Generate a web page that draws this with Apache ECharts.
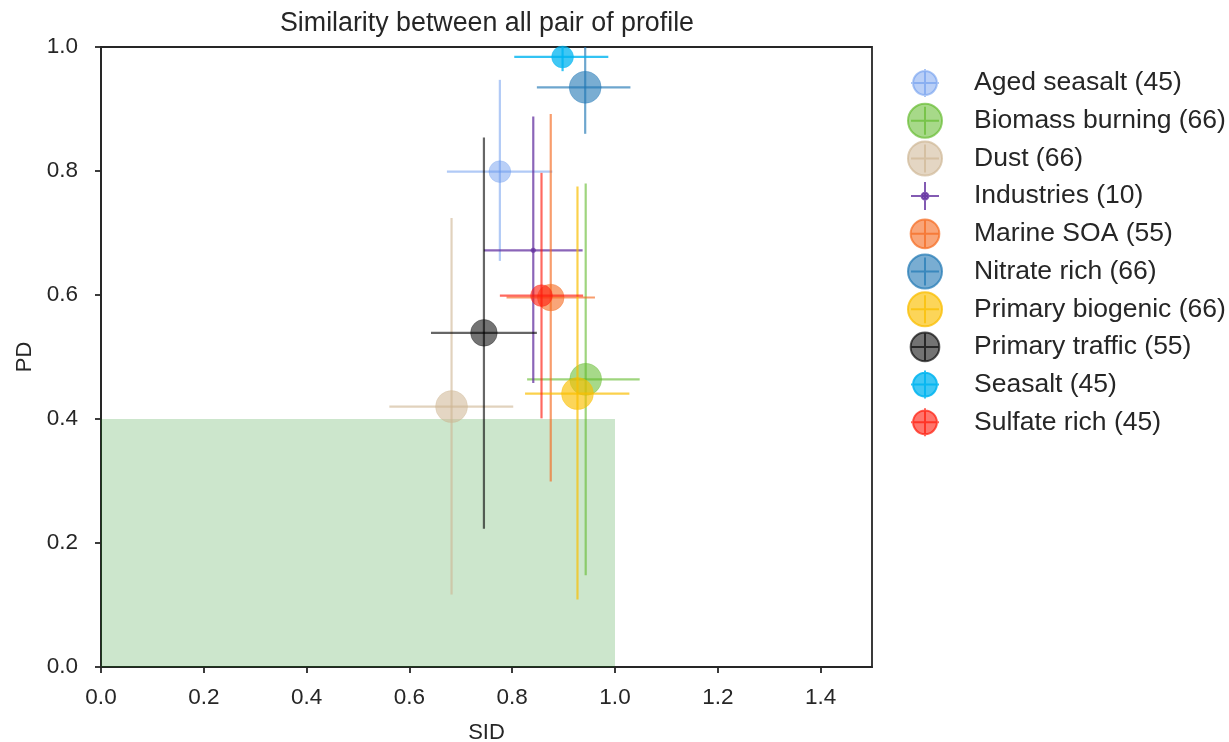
<!DOCTYPE html>
<html>
<head>
<meta charset="utf-8">
<script src="https://cdn.jsdelivr.net/npm/echarts@6/dist/echarts.min.js"></script>
<style>
html,body{margin:0;padding:0;background:#fff;}
#chart{width:1229px;height:742px;}
</style>
</head>
<body>
<div id="chart"></div>
<script>
// ---- data ----
const names = ['Aged seasalt (45)', 'Biomass burning (66)', 'Dust (66)', 'Industries (10)', 'Marine SOA (55)',
  'Nitrate rich (66)', 'Primary biogenic (66)', 'Primary traffic (55)', 'Seasalt (45)', 'Sulfate rich (45)'];
const counts = [45, 66, 66, 10, 55, 66, 66, 55, 45, 45];
const sidMean = [0.776, 0.943, 0.682, 0.841, 0.875, 0.942, 0.927, 0.745, 0.898, 0.857];
const sidLow  = [0.673, 0.829, 0.561, 0.745, 0.789, 0.848, 0.825, 0.642, 0.804, 0.776];
const sidHigh = [0.878, 1.048, 0.802, 0.937, 0.961, 1.030, 1.028, 0.848, 0.987, 0.938];
const pdMean  = [0.799, 0.464, 0.420, 0.672, 0.596, 0.935, 0.441, 0.539, 0.984, 0.599];
const pdLow   = [0.655, 0.148, 0.117, 0.458, 0.299, 0.860, 0.109, 0.223, 0.961, 0.401];
const pdHigh  = [0.947, 0.780, 0.724, 0.888, 0.892, 1.010, 0.775, 0.854, 1.007, 0.797];
const shadeSID = [0, 1.0];
const shadePD = [0, 0.4];
const xTicks = [0, 0.2, 0.4, 0.6, 0.8, 1.0, 1.2, 1.4];
const yTicks = [0, 0.2, 0.4, 0.6, 0.8, 1.0];

// ---- styles ----
const baseColors = [
  [100, 149, 237, 0.45],
  [95, 185, 40, 0.55],
  [205, 180, 145, 0.55],
  [100, 50, 160, 0.7],
  [245, 105, 30, 0.6],
  [31, 119, 180, 0.6],
  [250, 190, 0, 0.65],
  [0, 0, 0, 0.55],
  [0, 180, 240, 0.75],
  [255, 25, 10, 0.6]
];
const rgba = (c, a) => `rgba(${c[0]},${c[1]},${c[2]},${a})`;
const FONT = 'Liberation Sans, Arial, sans-serif';
const TXT = '#262626';
const sizeOf = n => n * 0.485;

function iconPath(i) {
  const r = Math.max(sizeOf(counts[i]) / 2 + 1, 2.5);
  const c = 14;
  return 'path://M0,0 M40,40 ' +
    `M${20 - r},20 A${r},${r} 0 1,0 ${20 + r},20 A${r},${r} 0 1,0 ${20 - r},20 Z ` +
    `M20,${20 - c} L20,${20 + c} M${20 - c},20 L${20 + c},20`;
}

const series = [];
series.push({
  type: 'scatter', name: '__shade', data: [], z: 0, silent: true,
  markArea: {
    silent: true,
    itemStyle: { color: 'rgba(0,128,0,0.2)' },
    data: [[{ coord: [shadeSID[0], shadePD[0]] }, { coord: [shadeSID[1], shadePD[1]] }]]
  }
});

names.forEach((n, i) => {
  const col = baseColors[i];
  series.push({
    type: 'custom', name: n, z: 2 + i * 2, silent: true,
    data: [[sidMean[i], pdMean[i], sidLow[i], sidHigh[i], pdLow[i], pdHigh[i]]],
    encode: { x: [0, 2, 3], y: [1, 4, 5] },
    renderItem: function (params, api) {
      const cs = params.coordSys;
      const clampY = v => Math.max(cs.y, Math.min(cs.y + cs.height, v));
      const pc = api.coord([api.value(0), api.value(1)]);
      const pl = api.coord([api.value(2), api.value(1)]);
      const pr = api.coord([api.value(3), api.value(1)]);
      const pb = api.coord([api.value(0), api.value(4)]);
      const pt = api.coord([api.value(0), api.value(5)]);
      const st = { stroke: rgba(col, Math.min(col[3] + 0.05, 0.85)), lineWidth: 2.2 };
      return {
        type: 'group', children: [
          { type: 'line', shape: { x1: pl[0], y1: pc[1], x2: pr[0], y2: pc[1] }, style: st },
          { type: 'line', shape: { x1: pc[0], y1: clampY(pb[1]), x2: pc[0], y2: clampY(pt[1]) }, style: st }
        ]
      };
    }
  });
  series.push({
    type: 'scatter', name: n, z: 3 + i * 2, silent: true,
    symbol: 'circle', symbolSize: sizeOf(counts[i]),
    itemStyle: { color: rgba(col, col[3]), borderColor: rgba(col, col[3] * 0.5), borderWidth: 1, opacity: 1 },
    data: [[sidMean[i], pdMean[i]]]
  });
});

const legendTop0 = 82, legendStep = 37.7;
const legends = names.map((n, i) => ({
  orient: 'vertical', left: 904, top: legendTop0 + i * legendStep - 20,
  padding: 0, itemWidth: 40, itemHeight: 40, itemGap: 0, selectedMode: false,
  symbolKeepAspect: true,
  textStyle: { fontSize: 26.5, color: TXT, fontFamily: FONT, padding: [0, 0, 0, 24] },
  data: [{
    name: n, icon: iconPath(i),
    itemStyle: { color: rgba(baseColors[i], baseColors[i][3]), borderColor: rgba(baseColors[i], Math.min(baseColors[i][3] + 0.1, 0.9)), borderWidth: 2, opacity: 1 }
  }]
}));

const axisCommon = {
  axisLine: { show: true, lineStyle: { color: TXT, width: 1.8 } },
  axisTick: { show: true, length: 6, lineStyle: { color: TXT, width: 1.8 } },
  splitLine: { show: false },
  nameTextStyle: { fontSize: 22, color: TXT, fontFamily: FONT }
};

const option = {
  animation: false,
  backgroundColor: '#fff',
  title: {
    text: 'Similarity between all pair of profile',
    left: 487, top: 10, padding: 0, textAlign: 'center',
    textStyle: { fontSize: 26.8, fontWeight: 'normal', color: TXT, fontFamily: FONT }
  },
  legend: legends,
  grid: {
    left: 101, right: 357, top: 47, bottom: 75,
    show: true, borderColor: TXT, borderWidth: 1.8, backgroundColor: 'transparent',
    containLabel: false, outerBoundsMode: 'none'
  },
  xAxis: Object.assign({}, axisCommon, {
    type: 'value', min: 0, max: 1.5, interval: 0.2,
    name: 'SID', nameLocation: 'middle', nameGap: 55,
    axisTick: Object.assign({}, axisCommon.axisTick, { customValues: xTicks }),
    axisLabel: { customValues: xTicks, margin: 19, fontSize: 22.5, color: TXT, fontFamily: FONT, formatter: v => v.toFixed(1) }
  }),
  yAxis: Object.assign({}, axisCommon, {
    type: 'value', min: 0, max: 1.0, interval: 0.2,
    name: 'PD', nameLocation: 'middle', nameGap: 62,
    axisTick: Object.assign({}, axisCommon.axisTick, { customValues: yTicks }),
    axisLabel: { customValues: yTicks, margin: 23, fontSize: 22.5, color: TXT, fontFamily: FONT, formatter: v => v.toFixed(1) }
  }),
  series: series
};

const chart = echarts.init(document.getElementById('chart'), null, { renderer: 'canvas' });
chart.setOption(option);
</script>
</body>
</html>
